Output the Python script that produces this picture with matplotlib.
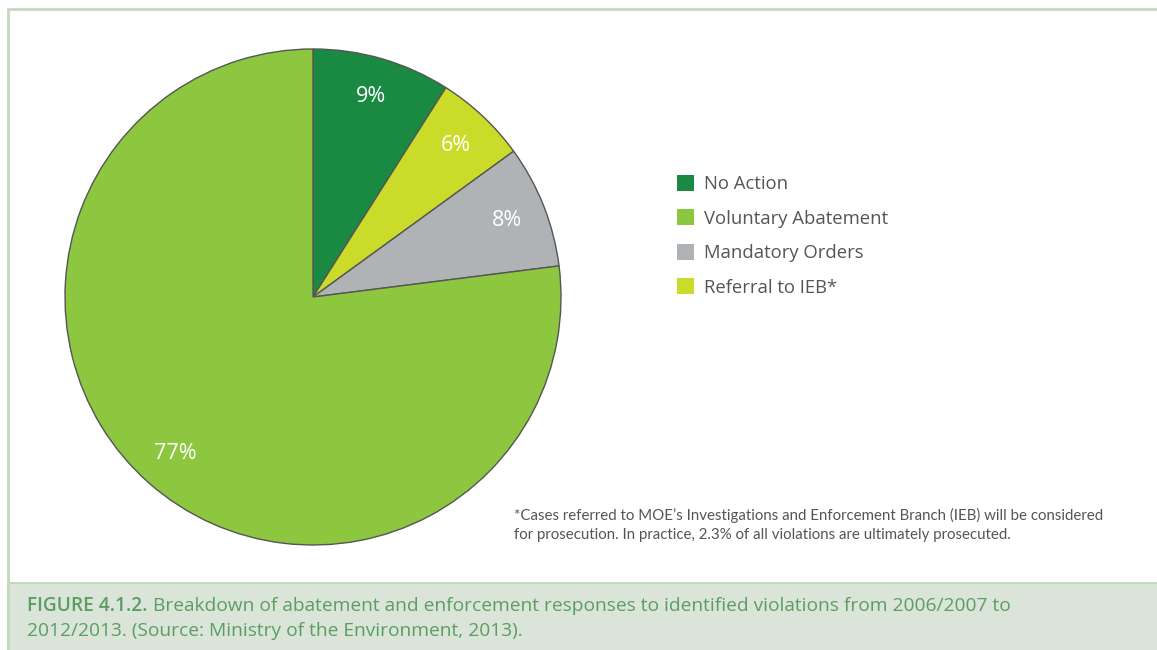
import matplotlib.pyplot as plt
from matplotlib.patches import Patch, Rectangle
from matplotlib.lines import Line2D

# data, in the order the slices run clockwise from 12 o'clock
slice_names = ["No Action", "Referral to IEB*", "Mandatory Orders", "Voluntary Abatement"]
slice_values = [9, 6, 8, 77]
slice_colors = ["#1a8a43", "#cbdb2a", "#b0b3b5", "#8dc63f"]

legend_order = ["No Action", "Voluntary Abatement", "Mandatory Orders", "Referral to IEB*"]

footnote = ("*Cases referred to MOE\u2019s Investigations and Enforcement Branch (IEB) will be considered\n"
            "for prosecution. In practice, 2.3% of all violations are ultimately prosecuted.")
caption_bold = "FIGURE 4.1.2."
caption_rest = (" Breakdown of abatement and enforcement responses to identified violations from 2006/2007 to\n"
                "2012/2013. (Source: Ministry of the Environment, 2013).")

plt.rcParams['font.family'] = ['Open Sans', 'DejaVu Sans']

W, H = 1157, 650
fig = plt.figure(figsize=(W / 100, H / 100), dpi=100)

# frame lines and caption box
border = "#c4d8c0"
fig.add_artist(Line2D([7.5 / W, 1], [1 - 8.5 / H, 1 - 8.5 / H], color=border, lw=2))
fig.add_artist(Line2D([7.5 / W, 7.5 / W], [0, 1 - 8.5 / H], color=border, lw=2))
fig.add_artist(Rectangle((7.5 / W, -0.05), 1, (H - 583) / H + 0.05, facecolor="#dbe4d8",
                         edgecolor=border, lw=1.5, transform=fig.transFigure))

# pie
cx, cy, r = 313, 297, 248
ax = fig.add_axes([(cx - r) / W, (H - cy - r) / H, 2 * r / W, 2 * r / H])
wedges, texts = ax.pie(slice_values, colors=slice_colors, startangle=90, counterclock=False,
                       labels=[f"{v}%" for v in slice_values], labeldistance=0.84,
                       wedgeprops=dict(edgecolor="#555555", linewidth=1))
for t in texts:
    t.set_color("white")
    t.set_fontsize(15.5)
    t.set_ha("center")
    t.set_va("center")
ax.set_xlim(-1, 1)
ax.set_ylim(-1, 1)
ax.set_aspect("equal")
ax.axis("off")

# legend
handles = [Patch(facecolor=slice_colors[slice_names.index(n)], edgecolor="none") for n in legend_order]
fig.legend(handles, legend_order, loc="upper left", bbox_to_anchor=(660 / W, 1 - 158 / H),
           frameon=False, fontsize=13.3, labelcolor="#555555", handlelength=0.95, handleheight=0.95,
           handletextpad=0.55, labelspacing=0.88)

# footnote
fig.text(514 / W, 1 - 508 / H, footnote, fontsize=10.8, color="#555555", va="top", ha="left",
         family=["Lato", "DejaVu Sans"], linespacing=1.45)

# caption
cap_color = "#5a9e62"
fs = 13.8
t1 = fig.text(27 / W, 1 - 606 / H, caption_bold, fontsize=fs, color=cap_color, fontweight="semibold",
              va="center", ha="left")
fig.canvas.draw()
bb = t1.get_window_extent()
fig.text(bb.x1 / W, 1 - 606 / H, caption_rest.split("\n")[0], fontsize=fs, color=cap_color,
         va="center", ha="left")
fig.text(27 / W, 1 - 631 / H, caption_rest.split("\n")[1], fontsize=fs, color=cap_color,
         va="center", ha="left")

fig.savefig("out.png", dpi=100, facecolor="white")
